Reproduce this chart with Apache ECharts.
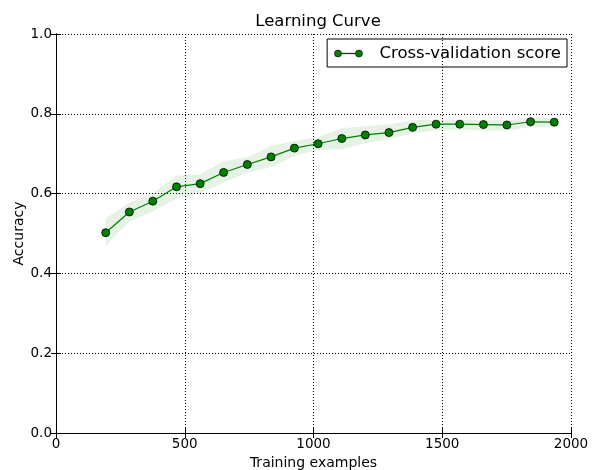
<!DOCTYPE html>
<html>
<head>
<meta charset="utf-8">
<script src="https://cdn.jsdelivr.net/npm/echarts@6/dist/echarts.min.js"></script>
<style>html,body{margin:0;padding:0;background:#fff}#c{width:592px;height:470px}</style>
</head>
<body>
<div id="c"></div>
<script>
var trainSizes = [193, 285, 376, 468, 560, 651, 743, 835, 926, 1018, 1110, 1201, 1293, 1385, 1476, 1568, 1660, 1751, 1843, 1935];
var cvMean = [0.502, 0.554, 0.581, 0.617, 0.625, 0.653, 0.673, 0.692, 0.714, 0.725, 0.738, 0.747, 0.753, 0.766, 0.774, 0.774, 0.773, 0.772, 0.780, 0.779];
var cvUpper = [0.538, 0.577, 0.601, 0.645, 0.648, 0.682, 0.691, 0.719, 0.732, 0.742, 0.764, 0.769, 0.774, 0.784, 0.786, 0.786, 0.784, 0.784, 0.791, 0.789];
var cvLower = [0.469, 0.530, 0.555, 0.588, 0.601, 0.627, 0.652, 0.666, 0.694, 0.709, 0.711, 0.726, 0.736, 0.751, 0.758, 0.760, 0.758, 0.758, 0.766, 0.766];
var xTicks = [0, 500, 1000, 1500, 2000];
var yTicks = [0.0, 0.2, 0.4, 0.6, 0.8, 1.0];

var font = 'DejaVu Sans';
var bandData = trainSizes.map(function(x, i){ return [x, cvLower[i], cvUpper[i]]; });
var meanData = trainSizes.map(function(x, i){ return [x, cvMean[i]]; });

var chart = echarts.init(document.getElementById('c'), null, {renderer: 'canvas'});
var gridLine = {show: true, lineStyle: {color: '#000', width: 1, type: [1, 2]}};
var option = {
  animation: false,
  backgroundColor: '#fff',
  title: {
    text: 'Learning Curve', left: 313, top: 8, textAlign: 'center',
    textStyle: {fontFamily: font, fontSize: 16.5, fontWeight: 'normal', color: '#000'}
  },
  legend: {
    right: 25, top: 39,
    data: [{name: 'Cross-validation score'}],
    icon: 'path://M0,4a4,4 0 1,0 8,0a4,4 0 1,0 -8,0zM8,3.8h16v0.4h-16zM24,4a4,4 0 1,0 8,0a4,4 0 1,0 -8,0z',
    itemWidth: 28, itemHeight: 7, itemGap: 10,
    itemStyle: {borderWidth: 0.6, borderColor: '#000'},
    padding: [6, 6, 5, 7],
    borderColor: '#000', borderWidth: 1,
    textStyle: {fontFamily: font, fontSize: 16.5, color: '#000', padding: [0, 0, 0, 12]}
  },
  grid: {left: 56, top: 34, right: 21, bottom: 37, containLabel: false, outerBoundsMode: 'none'},
  xAxis: [{
    type: 'value', min: 0, max: 2000, interval: 500,
    name: 'Training examples', nameLocation: 'middle', nameGap: 22,
    nameTextStyle: {fontFamily: font, fontSize: 14, color: '#000'},
    axisLine: {show: true, lineStyle: {color: '#000', width: 1}},
    axisTick: {show: true, inside: true, length: 5, lineStyle: {color: '#000'}},
    axisLabel: {fontFamily: font, fontSize: 13.5, color: '#000', margin: 4,
      formatter: function(v){ return String(v); }},
    splitLine: gridLine
  }, {
    type: 'value', position: 'top', min: 0, max: 2000, interval: 500,
    axisLine: {show: true, lineStyle: {color: '#000', width: 1}},
    axisTick: {show: true, inside: true, length: 5, lineStyle: {color: '#000'}},
    axisLabel: {show: false}, splitLine: {show: false}
  }],
  yAxis: [{
    type: 'value', min: 0, max: 1, interval: 0.2,
    name: 'Accuracy', nameLocation: 'middle', nameGap: 30, nameMoveOverlap: false,
    nameTextStyle: {fontFamily: font, fontSize: 14, color: '#000'},
    axisLine: {show: true, lineStyle: {color: '#000', width: 1}},
    axisTick: {show: true, inside: true, length: 5, lineStyle: {color: '#000'}},
    axisLabel: {fontFamily: font, fontSize: 13.5, color: '#000', margin: 4,
      formatter: function(v){ return v.toFixed(1); }},
    splitLine: gridLine
  }, {
    type: 'value', position: 'right', min: 0, max: 1, interval: 0.2,
    axisLine: {show: true, lineStyle: {color: '#000', width: 1}},
    axisTick: {show: true, inside: true, length: 5, lineStyle: {color: '#000'}},
    axisLabel: {show: false}, splitLine: {show: false}
  }],
  series: [{
    name: 'band', type: 'custom', data: bandData, silent: true, z: 3,
    encode: {x: 0, y: [1, 2]},
    renderItem: function(params, api){
      if (params.dataIndex !== 0) return null;
      var up = [], lo = [];
      for (var i = 0; i < bandData.length; i++) {
        up.push(api.coord([bandData[i][0], bandData[i][2]]));
        lo.unshift(api.coord([bandData[i][0], bandData[i][1]]));
      }
      return {type: 'polygon', shape: {points: up.concat(lo)},
        style: {fill: 'rgba(0,128,0,0.1)', stroke: 'none'}};
    }
  }, {
    name: 'Cross-validation score', type: 'line', data: meanData,
    color: '#008000',
    lineStyle: {color: '#008000', width: 1.2},
    symbol: 'circle', symbolSize: 8,
    itemStyle: {color: '#008000', borderColor: '#000', borderWidth: 0.8},
    z: 5
  }]
};
chart.setOption(option);
</script>
</body>
</html>
